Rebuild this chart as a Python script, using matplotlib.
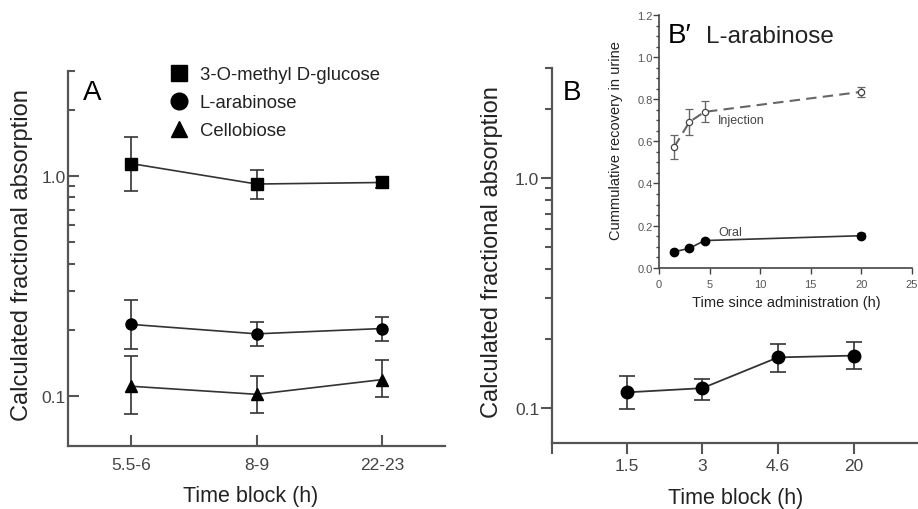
import numpy as np
import matplotlib
matplotlib.use('Agg')
import matplotlib.pyplot as plt
from matplotlib.lines import Line2D
from matplotlib.ticker import FixedLocator, NullFormatter, MultipleLocator

plt.rcParams['font.family'] = ['Liberation Sans', 'DejaVu Sans']

# panel A: three sugars over time blocks
blocks_a = ['5.5-6', '8-9', '22-23']
omg = [1.14, 0.92, 0.935]
omg_lo = [0.855, 0.79, 0.88]
omg_hi = [1.51, 1.06, 0.995]
ara = [0.212, 0.192, 0.203]
ara_lo = [0.164, 0.169, 0.179]
ara_hi = [0.273, 0.218, 0.229]
cel = [0.111, 0.102, 0.119]
cel_lo = [0.083, 0.084, 0.099]
cel_hi = [0.152, 0.124, 0.146]

# panel B: L-arabinose
blocks_b = ['1.5', '3', '4.6', '20']
arab = [0.117, 0.122, 0.166, 0.169]
arab_lo = [0.099, 0.108, 0.144, 0.148]
arab_hi = [0.138, 0.134, 0.190, 0.193]

# inset B': cumulative recovery
t_inj = [1.5, 3, 4.5, 20]
inj = [0.573, 0.692, 0.74, 0.835]
inj_err = [0.055, 0.063, 0.05, 0.025]
t_oral = [1.5, 3, 4.5, 20]
oral = [0.076, 0.092, 0.129, 0.152]
oral_err = [0.006, 0.006, 0.008, 0.012]

log_minor = [0.2, 0.3, 0.4, 0.5, 0.6, 0.7, 0.8, 0.9, 2, 3]

spine_c = '#555555'
line_c = '#333333'
txt_c = '#222222'
tick_c = '#444444'


def err(v, lo, hi):
    return [np.subtract(v, lo), np.subtract(hi, v)]


fig = plt.figure(figsize=(9.18, 5.10), dpi=100)

# ---- A
axA = fig.add_axes([0.0741, 0.1235, 0.4107, 0.7353])
xa = np.arange(len(blocks_a))
for vals, lo, hi, mk, ms in [(omg, omg_lo, omg_hi, 's', 8),
                             (ara, ara_lo, ara_hi, 'o', 8),
                             (cel, cel_lo, cel_hi, '^', 8)]:
    axA.errorbar(xa, vals, yerr=err(vals, lo, hi), fmt=mk + '-', color=line_c,
                 mfc='black', mec='black', ms=ms, lw=1.2, elinewidth=1.2,
                 capsize=5, capthick=1.2)
axA.set_yscale('log')
axA.set_ylim(0.0594, 3.0)
axA.set_xlim(-0.5, 2.5)
axA.yaxis.set_major_locator(FixedLocator([0.1, 1.0]))
axA.set_yticklabels(['0.1', '1.0'])
axA.yaxis.set_minor_locator(FixedLocator(log_minor))
axA.yaxis.set_minor_formatter(NullFormatter())
axA.set_xticks(xa)
axA.set_xticklabels(blocks_a)
axA.tick_params(axis='both', which='major', direction='in', length=8, width=1.5,
                color=spine_c, labelsize=12.5, labelcolor=tick_c)
axA.tick_params(axis='y', which='minor', direction='in', length=5, width=1.5,
                color=spine_c)
axA.tick_params(axis='y', pad=1.5)
axA.tick_params(axis='x', pad=8)
axA.legend(handles=[Line2D([], [], marker='s', ls='none', color='black', ms=12),
                    Line2D([], [], marker='o', ls='none', color='black', ms=12),
                    Line2D([], [], marker='^', ls='none', color='black', ms=12)],
           labels=['3-O-methyl D-glucose', 'L-arabinose', 'Cellobiose'],
           loc='upper left', bbox_to_anchor=(170 / 918, 1 - 67 / 510),
           bbox_transform=fig.transFigure, frameon=False, fontsize=13.3,
           handlelength=1.0, handletextpad=0.62, labelspacing=0.6, borderpad=0,
           borderaxespad=0, labelcolor=txt_c)
axA.text(0.04, 0.925, 'A', transform=axA.transAxes, fontsize=20, color='black')
axA.set_ylabel('Calculated fractional absorption', fontsize=17, color=txt_c)
axA.yaxis.set_label_coords(-0.0935, 0.512)
axA.set_xlabel('Time block (h)', fontsize=15.5, color=txt_c)
axA.xaxis.set_label_coords(0.483, -0.104)

# ---- B
axB = fig.add_axes([0.601, 0.1294, 0.399, 0.7353])
axB.patch.set_alpha(0)
xb = np.arange(len(blocks_b))
axB.errorbar(xb, arab, yerr=err(arab, arab_lo, arab_hi), fmt='o-', color=line_c,
             mfc='black', mec='black', ms=9, lw=1.3, elinewidth=1.2,
             capsize=6, capthick=1.2)
axB.set_yscale('log')
axB.set_ylim(0.0705, 3.0)
axB.set_xlim(-0.99, 3.85)
axB.yaxis.set_major_locator(FixedLocator([0.1, 1.0]))
axB.set_yticklabels(['0.1', '1.0'])
axB.yaxis.set_minor_locator(FixedLocator(log_minor))
axB.yaxis.set_minor_formatter(NullFormatter())
axB.set_xticks(xb)
axB.set_xticklabels(blocks_b)
axB.xaxis.set_minor_locator(FixedLocator([-0.99]))
axB.tick_params(axis='both', which='both', direction='out', width=1.5, color=spine_c)
axB.tick_params(axis='both', which='major', length=8, labelsize=12.5, labelcolor=tick_c)
axB.tick_params(axis='y', which='minor', length=5)
axB.tick_params(axis='x', which='minor', length=8)
axB.tick_params(axis='y', pad=1)
axB.tick_params(axis='x', pad=2.5)
axB.text(0.031, 0.917, 'B', transform=axB.transAxes, fontsize=20, color='black')
axB.set_ylabel('Calculated fractional absorption', fontsize=17, color=txt_c)
axB.yaxis.set_label_coords(-0.132, 0.512)
axB.set_xlabel('Time block (h)', fontsize=15.5, color=txt_c)
axB.xaxis.set_label_coords(0.503, -0.117)

for ax in (axA, axB):
    for s in ('top', 'right'):
        ax.spines[s].set_visible(False)
    for s in ('left', 'bottom'):
        ax.spines[s].set_color(spine_c)
        ax.spines[s].set_linewidth(1.6)

# ---- inset B'
axI = fig.add_axes([0.7179, 0.4731, 0.2753, 0.4955])
axI.patch.set_alpha(0)
axI.errorbar(t_inj, inj, yerr=inj_err, fmt='o', ls=(0, (5, 3)), color='#666666',
             mfc='white', mec='#444444', ms=4.5, mew=0.9, lw=1.5,
             elinewidth=1.0, capsize=3, capthick=1.0)
axI.errorbar(t_oral, oral, yerr=oral_err, fmt='o-', color=line_c, mfc='black',
             mec='black', ms=6, lw=1.2, elinewidth=1.0, capsize=3, capthick=1.0)
axI.set_xlim(0, 25)
axI.set_ylim(0, 1.2)
axI.set_xticks(np.arange(0, 26, 5))
axI.set_yticks(np.arange(0, 1.21, 0.2))
axI.set_yticklabels(['%.1f' % v for v in np.arange(0, 1.21, 0.2)])
axI.yaxis.set_minor_locator(MultipleLocator(0.05))
axI.tick_params(axis='both', which='both', direction='out', color='#444444', width=1.0)
axI.tick_params(axis='both', which='major', length=4, labelsize=8, labelcolor='#555555')
axI.tick_params(axis='y', which='minor', length=2.5)
axI.tick_params(axis='y', pad=0.5)
axI.tick_params(axis='x', pad=4)
for s in ('top', 'right'):
    axI.spines[s].set_visible(False)
for s in ('left', 'bottom'):
    axI.spines[s].set_color('#444444')
    axI.spines[s].set_linewidth(1.2)
axI.text(5.84, 0.70, 'Injection', fontsize=9, color='#444444', va='center')
axI.text(5.84, 0.17, 'Oral', fontsize=9, color='#444444', va='center')
axI.text(0.036, 0.895, 'B\u2032', transform=axI.transAxes, fontsize=20, color='black')
axI.text(0.185, 0.895, 'L-arabinose', transform=axI.transAxes, fontsize=17.5,
         color='#222222')
axI.set_ylabel('Cummulative recovery in urine', fontsize=10.5, color=txt_c)
axI.yaxis.set_label_coords(-0.142, 0.509)
axI.set_xlabel('Time since administration (h)', fontsize=10.5, color=txt_c)
axI.xaxis.set_label_coords(0.503, -0.108)

fig.savefig('out.png', dpi=100)
